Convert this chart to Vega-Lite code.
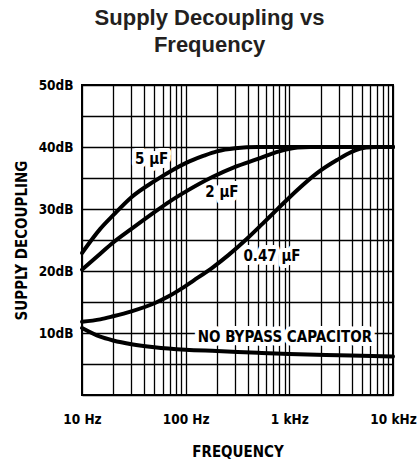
{
  "$schema": "https://vega.github.io/schema/vega-lite/v6.json",
  "width": 311,
  "height": 310,
  "autosize": {"type": "none"},
  "padding": {"left": 82, "top": 85, "right": 26, "bottom": 70},
  "background": "white",
  "title": {
    "text": ["Supply Decoupling vs", "Frequency"],
    "font": "Liberation Sans",
    "fontSize": 22,
    "fontWeight": "bold",
    "color": "#231f20",
    "anchor": "middle",
    "dx": -28,
    "offset": 21,
    "lineHeight": 27
  },
  "config": {
    "view": {"stroke": "black", "strokeWidth": 2},
    "axis": {
      "grid": true,
      "gridColor": "black",
      "gridWidth": 1.3,
      "gridOpacity": 1,
      "ticks": false,
      "domain": false,
      "labelFont": "DejaVu Sans Condensed, DejaVu Sans",
      "labelFontWeight": "bold",
      "labelFontSize": 13.5,
      "labelColor": "black",
      "labelOverlap": false,
      "labelBound": false,
      "labelFlush": false,
      "titleFont": "DejaVu Sans Condensed, DejaVu Sans",
      "titleFontWeight": "bold",
      "titleFontSize": 15,
      "titleColor": "black"
    }
  },
  "datasets": {
    "curves": [
      {"series": "5uF", "f": 10, "db": 22.9},
      {"series": "5uF", "f": 15, "db": 26.8},
      {"series": "5uF", "f": 20, "db": 29.0},
      {"series": "5uF", "f": 30, "db": 31.9},
      {"series": "5uF", "f": 50, "db": 34.5},
      {"series": "5uF", "f": 75, "db": 36.3},
      {"series": "5uF", "f": 100, "db": 37.4},
      {"series": "5uF", "f": 150, "db": 38.6},
      {"series": "5uF", "f": 200, "db": 39.3},
      {"series": "5uF", "f": 300, "db": 39.8},
      {"series": "5uF", "f": 500, "db": 40},
      {"series": "5uF", "f": 1000, "db": 40},
      {"series": "5uF", "f": 10000, "db": 40},
      {"series": "2uF", "f": 10, "db": 20.2},
      {"series": "2uF", "f": 15, "db": 22.8},
      {"series": "2uF", "f": 20, "db": 24.6},
      {"series": "2uF", "f": 30, "db": 26.8},
      {"series": "2uF", "f": 50, "db": 29.5},
      {"series": "2uF", "f": 70, "db": 31.2},
      {"series": "2uF", "f": 100, "db": 32.8},
      {"series": "2uF", "f": 183, "db": 35.2},
      {"series": "2uF", "f": 300, "db": 36.8},
      {"series": "2uF", "f": 480, "db": 38.0},
      {"series": "2uF", "f": 800, "db": 39.3},
      {"series": "2uF", "f": 1200, "db": 39.9},
      {"series": "2uF", "f": 1600, "db": 40},
      {"series": "2uF", "f": 10000, "db": 40},
      {"series": "0.47uF", "f": 10, "db": 11.8},
      {"series": "0.47uF", "f": 15, "db": 12.2},
      {"series": "0.47uF", "f": 20, "db": 12.7},
      {"series": "0.47uF", "f": 30, "db": 13.5},
      {"series": "0.47uF", "f": 50, "db": 14.8},
      {"series": "0.47uF", "f": 70, "db": 16.0},
      {"series": "0.47uF", "f": 88, "db": 17.0},
      {"series": "0.47uF", "f": 120, "db": 18.5},
      {"series": "0.47uF", "f": 183, "db": 20.6},
      {"series": "0.47uF", "f": 260, "db": 22.6},
      {"series": "0.47uF", "f": 390, "db": 25.2},
      {"series": "0.47uF", "f": 550, "db": 27.6},
      {"series": "0.47uF", "f": 760, "db": 29.9},
      {"series": "0.47uF", "f": 1180, "db": 33.0},
      {"series": "0.47uF", "f": 1850, "db": 35.8},
      {"series": "0.47uF", "f": 2880, "db": 37.9},
      {"series": "0.47uF", "f": 4000, "db": 39.2},
      {"series": "0.47uF", "f": 5500, "db": 39.9},
      {"series": "0.47uF", "f": 7000, "db": 40},
      {"series": "0.47uF", "f": 10000, "db": 40},
      {"series": "none", "f": 10, "db": 10.8},
      {"series": "none", "f": 15, "db": 9.4},
      {"series": "none", "f": 20, "db": 8.8},
      {"series": "none", "f": 30, "db": 8.2},
      {"series": "none", "f": 50, "db": 7.7},
      {"series": "none", "f": 100, "db": 7.3},
      {"series": "none", "f": 200, "db": 7.1},
      {"series": "none", "f": 500, "db": 6.8},
      {"series": "none", "f": 1000, "db": 6.6},
      {"series": "none", "f": 3000, "db": 6.4},
      {"series": "none", "f": 10000, "db": 6.2}
    ],
    "labels": [
      {"label": "5 µF", "f": 47, "db": 38.1},
      {"label": "2 µF", "f": 224, "db": 32.7},
      {"label": "0.47 µF", "f": 680, "db": 22.4},
      {"label": "NO BYPASS CAPACITOR", "f": 906, "db": 9.35}
    ]
  },
  "encoding": {
    "x": {
      "field": "f",
      "type": "quantitative",
      "scale": {"type": "log", "domain": [10, 10000]},
      "axis": {
        "values": [10, 20, 30, 40, 50, 60, 70, 80, 90, 100, 200, 300, 400, 500, 600, 700, 800, 900, 1000, 2000, 3000, 4000, 5000, 6000, 7000, 8000, 9000, 10000],
        "labelExpr": "datum.value == 10 ? '10 Hz' : datum.value == 100 ? '100 Hz' : datum.value == 1000 ? '1 kHz' : datum.value == 10000 ? '10 kHz' : ''",
        "labelPadding": 17,
        "title": "FREQUENCY",
        "titleY": 56,
        "titleBaseline": "middle"
      }
    },
    "y": {
      "field": "db",
      "type": "quantitative",
      "scale": {"domain": [0, 50], "nice": false, "zero": false},
      "axis": {
        "values": [0, 5, 10, 15, 20, 25, 30, 35, 40, 45, 50],
        "labelExpr": "datum.value % 10 == 0 && datum.value > 0 ? datum.value + 'dB' : ''",
        "labelPadding": 9,
        "labelBaseline": "middle",
        "title": "SUPPLY DECOUPLING",
        "titleX": -61,
        "titleY": 155,
        "titleAngle": -90,
        "titleAlign": "center",
        "titleBaseline": "middle"
      }
    }
  },
  "layer": [
    {
      "data": {"name": "labels"},
      "mark": {"type": "text", "font": "DejaVu Sans Condensed, DejaVu Sans", "fontWeight": "bold", "fontSize": 15, "stroke": "white", "strokeWidth": 8, "strokeJoin": "round", "fill": "white", "align": "center", "baseline": "middle"},
      "encoding": {"text": {"field": "label"}}
    },
    {
      "data": {"name": "curves"},
      "mark": {"type": "line", "color": "black", "strokeWidth": 4, "interpolate": "monotone", "strokeCap": "round"},
      "encoding": {"detail": {"field": "series"}}
    },
    {
      "data": {"name": "labels"},
      "mark": {"type": "text", "font": "DejaVu Sans Condensed, DejaVu Sans", "fontWeight": "bold", "fontSize": 15, "fill": "black", "align": "center", "baseline": "middle"},
      "encoding": {"text": {"field": "label"}}
    }
  ]
}
